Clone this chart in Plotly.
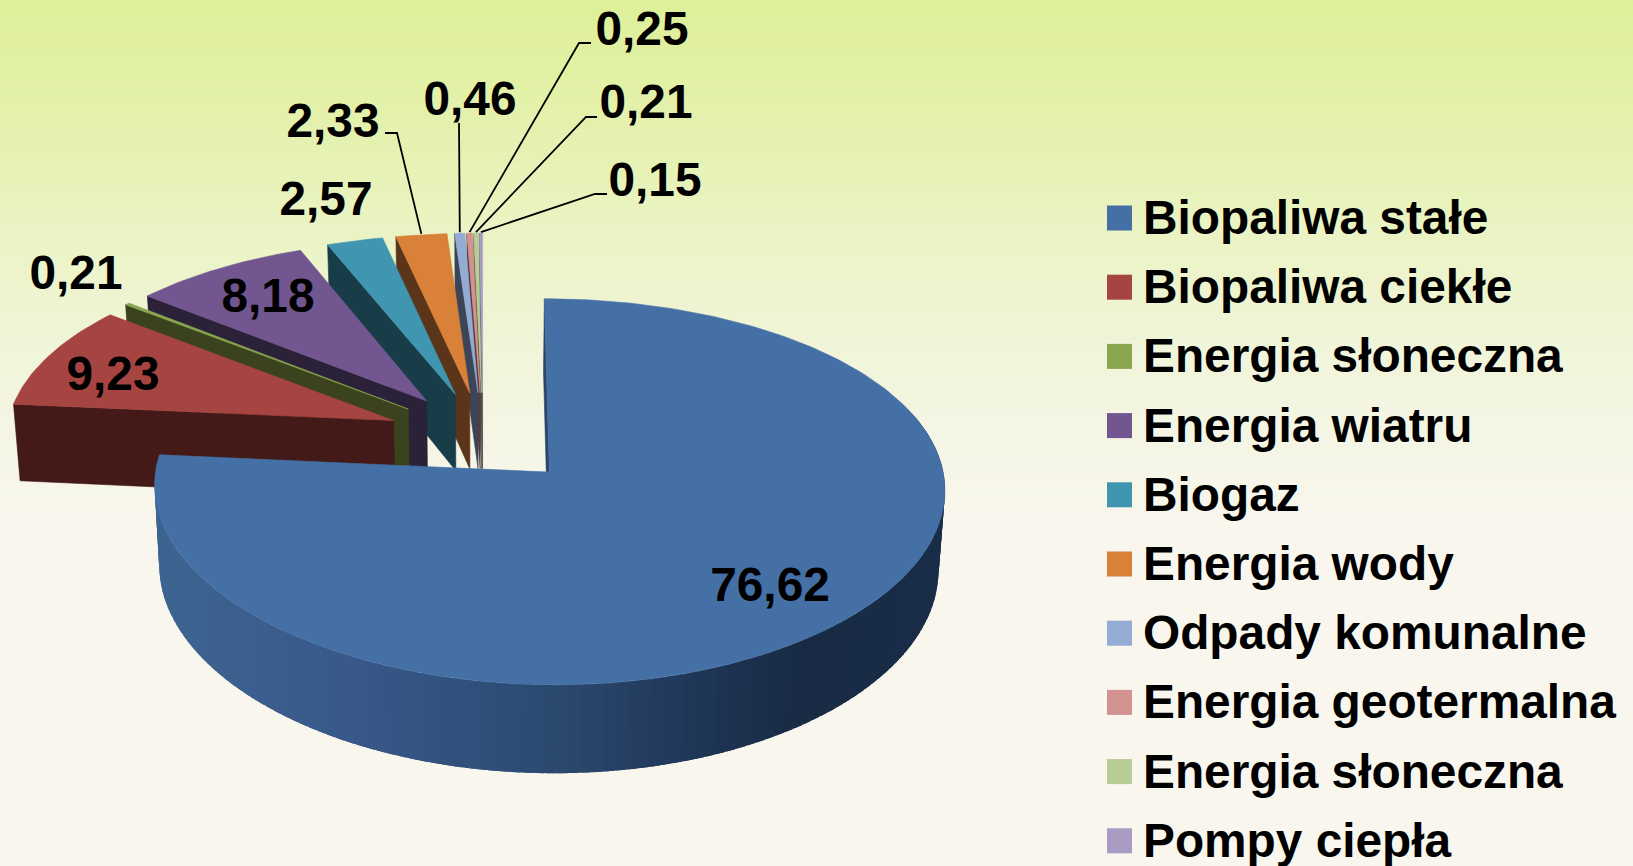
import numpy as np
import plotly.graph_objects as go

# ---- data ----
categories = ["Biopaliwa stałe", "Biopaliwa ciekłe", "Energia słoneczna", "Energia wiatru", "Biogaz",
              "Energia wody", "Odpady komunalne", "Energia geotermalna", "Energia słoneczna", "Pompy ciepła"]
values = [76.62, 9.23, 0.21, 8.18, 2.57, 2.33, 0.46, 0.25, 0.21, 0.15]

# ---- styles ----
top_colors = ["#4570A6", "#A64442", "#8AA64F", "#71568F", "#4096B0", "#D98039", "#94ABD3", "#D29290", "#B8CC96", "#A99BC3"]
wall_colors = ["#294569", "#431A18", "#3A431D", "#2B2138", "#193C49", "#5A3519", "#3C4558", "#583938", "#4A5340", "#443E50"]
bg_stops_y = [0, 60, 150, 250, 350, 450, 520, 866]
bg_stops_c = ["#DFF09A", "#E1F1A2", "#E6F2B3", "#ECF4C8", "#F1F5DA", "#F6F6E7", "#F9F6ED", "#F9F6EE"]
FONT = "Liberation Sans"
FS = 47.8

# ---- projection of the tilted, exploded pie ----
W, H = 1633, 866
CX, CY, R, RK, PERSP_X, PERSP, EXPL, DEPTH, SHRINK = 483, 437.5, 388, 184, 0.08, 0.10, 0.25, 78, 0.986

total = sum(values)
edges = np.concatenate([[0], np.cumsum(values)]) / total * 2 * np.pi


def project(theta, mid, radius=1.0, bottom=False):
    u = EXPL * np.sin(mid) + radius * np.sin(theta)
    v = EXPL * np.cos(mid) + radius * np.cos(theta)
    s = 1 / (1 + PERSP * v)
    x = u * R / (1 + PERSP_X * v)
    y = CY - RK * v * s
    if bottom:
        return CX + x * SHRINK, y + DEPTH * s
    return CX + x, y


def hexrgb(c):
    return np.array([int(c[i:i + 2], 16) for i in (1, 3, 5)], dtype=float)


def poly(xs, ys, color, name=None, lw=0.6):
    xs, ys = list(map(float, xs)), list(map(float, ys))
    return go.Scatter(x=xs + xs[:1], y=ys + ys[:1], mode="lines", fill="toself", fillcolor=color,
                      line=dict(color=color, width=lw), showlegend=False, hoverinfo="skip", name=name)


fig = go.Figure()

# background gradient
bg_y = np.linspace(0, H, 87)
bg_rgb = np.array([np.interp(bg_y, bg_stops_y, [hexrgb(c)[k] for c in bg_stops_c]) for k in range(3)]).T
cs = [[float(i) / (len(bg_y) - 1), "rgb(%d,%d,%d)" % tuple(c)] for i, c in enumerate(bg_rgb)]
fig.add_trace(go.Heatmap(x=[0, W], y=bg_y.tolist(), z=[[float(i), float(i)] for i in range(len(bg_y))],
                         colorscale=cs, showscale=False, zsmooth="best", hoverinfo="skip"))


def wedge_top(i):
    a, b = edges[i], edges[i + 1]
    mid = (a + b) / 2
    th = np.linspace(a, b, max(3, int((b - a) * 60)))
    ox, oy = project(th, mid)
    ax, ay = project(0.0, mid, radius=0.0)
    return poly(np.concatenate([[ax], ox]), np.concatenate([[ay], oy]), top_colors[i], categories[i])


def wedge_face(i):
    a, b = edges[i], edges[i + 1]
    mid = (a + b) / 2
    x1, y1 = project(a, mid)
    x2, y2 = project(a, mid, bottom=True)
    x3, y3 = project(a, mid, radius=0.0, bottom=True)
    x4, y4 = project(a, mid, radius=0.0)
    return poly([x1, x2, x3, x4], [y1, y2, y3, y4], wall_colors[i])


# small slices, back (right) to front (left)
for i in range(len(values) - 1, 0, -1):
    fig.add_trace(wedge_face(i))
    fig.add_trace(wedge_top(i))

# large slice: cut face, curved wall with a horizontal shade, top
fig.add_trace(wedge_face(0))
wall_x = [150, 350, 550, 700, 800, 950]
wall_c = ["#3E6592", "#38598A", "#2C4A70", "#1F3656", "#192B44", "#1A2E4A"]
m0 = (edges[0] + edges[1]) / 2
ths = np.linspace(np.radians(70), edges[1], 130)
step = ths[1] - ths[0]
for t0 in ths[:-1]:
    t1 = t0 + step * 1.8  # overlap neighbours so no seams show
    t1 = min(t1, edges[1])
    xa, ya = project(t0, m0)
    xb, yb = project(t1, m0)
    xc, yc = project(t1, m0, bottom=True)
    xd, yd = project(t0, m0, bottom=True)
    xm = (xa + xb) / 2
    rgb = [np.interp(xm, wall_x, [hexrgb(c)[k] for c in wall_c]) for k in range(3)]
    fig.add_trace(poly([xa, xb, xc, xd], [ya, yb, yc, yd], "rgb(%d,%d,%d)" % tuple(rgb), lw=0))
fig.add_trace(wedge_top(0))

# data labels
label_text = [f"{v:.2f}".replace(".", ",") for v in values]
label_x = [770, 113, 76, 268, 326, 333, 470, 642, 646, 655]
label_y = [589, 378, 277, 300, 203, 125, 103, 33, 106, 184]
fig.add_trace(go.Scatter(x=label_x, y=label_y, mode="text", text=label_text, textposition="middle center",
                         textfont=dict(family=FONT, size=FS, color="#000000", weight="bold"), showlegend=False,
                         hoverinfo="skip", cliponaxis=False))

# leader lines: elbow near the label, end on the slice's outer edge
leader_from = {5: (385, 397, 133), 6: (459, 459, 123), 7: (591, 579, 43), 8: (597, 586, 117), 9: (607, 595, 194)}
for i, (x0, x1, y0) in leader_from.items():
    mid = (edges[i] + edges[i + 1]) / 2
    ex, ey = project(mid, mid)
    fig.add_trace(go.Scatter(x=[x0, x1, float(ex)], y=[y0, y0, float(ey) - 1], mode="lines",
                             line=dict(color="#000000", width=1.8), showlegend=False, hoverinfo="skip"))

# legend
row_y = [218 + 69.2 * i for i in range(len(categories))]
fig.add_trace(go.Scatter(x=[1119.5] * len(categories), y=row_y, mode="markers",
                         marker=dict(symbol="square", size=25, color=top_colors, line=dict(width=0)),
                         showlegend=False, hoverinfo="skip", cliponaxis=False))
fig.add_trace(go.Scatter(x=[1143] * len(categories), y=[y + 4 for y in row_y], mode="text", text=categories,
                         textposition="middle right",
                         textfont=dict(family=FONT, size=FS, color="#000000", weight="bold"),
                         showlegend=False, hoverinfo="skip", cliponaxis=False))

fig.update_layout(width=W, height=H, margin=dict(l=0, r=0, t=0, b=0), showlegend=False,
                  paper_bgcolor="#F9F6EE", plot_bgcolor="#F9F6EE",
                  xaxis=dict(range=[0, W], visible=False, fixedrange=True),
                  yaxis=dict(range=[H, 0], visible=False, fixedrange=True))
fig.write_html("out.html", config={"displayModeBar": False},
               post_script="document.body.style.margin='0';document.body.style.overflow='hidden';")
